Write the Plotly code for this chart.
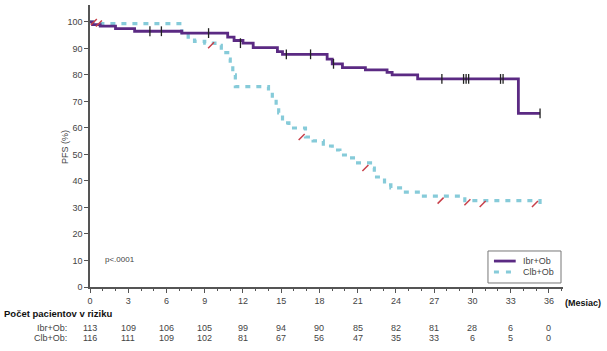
import plotly.graph_objects as go

# Kaplan-Meier step data (months, PFS %)
ibr_t = [0, 0.2, 0.8, 2.0, 3.5, 7.2, 10.8, 11.3, 12.0, 12.8, 14.7, 15.1, 18.6, 19.0, 19.8, 21.6, 23.3, 23.7, 25.7, 33.6, 35.3]
ibr_s = [100, 99.0, 98.4, 97.5, 96.5, 95.8, 94.3, 93.0, 92.0, 90.3, 88.8, 87.8, 86.0, 84.2, 82.8, 81.9, 81.0, 80.0, 78.5, 65.5, 65.5]
ibr_cens_t = [4.7, 5.6, 9.3, 11.8, 15.4, 17.3, 19.1, 27.6, 29.3, 29.5, 29.7, 32.2, 32.4, 35.3]
ibr_cens_s = [96.5, 96.5, 95.8, 92.0, 87.8, 87.8, 84.2, 78.5, 78.5, 78.5, 78.5, 78.5, 78.5, 65.5]

clb_t = [0, 0.6, 7.2, 7.7, 8.2, 9.0, 9.8, 10.3, 10.8, 11.0, 11.2, 11.4, 14.0, 14.3, 14.6, 14.8, 15.1, 15.6, 16.9, 17.5, 18.3, 19.0, 19.6, 20.2, 20.8, 22.0, 22.3, 23.1, 23.6, 24.6, 26.0, 29.4, 35.3]
clb_s = [100, 99.4, 96.0, 94.3, 92.7, 92.0, 91.2, 88.4, 86.0, 83.8, 80.0, 75.6, 74.0, 71.3, 68.7, 65.7, 61.9, 60.0, 56.6, 55.1, 53.2, 51.7, 49.8, 48.7, 46.8, 44.9, 41.5, 38.5, 37.4, 35.8, 34.3, 32.6, 31.3]
clb_cens_t = [0.3, 0.7, 9.5, 16.6, 21.6, 27.5, 29.6, 30.8, 34.9]
clb_cens_s = [100, 99.4, 91.2, 56.6, 44.9, 32.6, 32.0, 31.3, 31.3]

risk_months = [0, 3, 6, 9, 12, 15, 18, 21, 24, 27, 30, 33, 36]
risk_ibr = [113, 109, 106, 105, 99, 94, 90, 85, 82, 81, 28, 6, 0]
risk_clb = [116, 111, 109, 102, 81, 67, 56, 47, 35, 33, 6, 5, 0]

x_ticks = [0, 3, 6, 9, 12, 15, 18, 21, 24, 27, 30, 33, 36]
y_ticks = [0, 10, 20, 30, 40, 50, 60, 70, 80, 90, 100]

series_names = ["Ibr+Ob", "Clb+Ob"]

PURPLE = "#5b2a83"
BLUE = "#86cbd9"
GREY = "#555555"
TXT = "#444444"
FONT = "Liberation Sans, Arial, sans-serif"

fig = go.Figure()
fig.add_trace(go.Scatter(x=clb_t, y=clb_s, mode="lines", line_shape="hv",
                         line=dict(color=BLUE, width=3.2, dash="5px,6px"),
                         name=series_names[1], showlegend=False))
fig.add_trace(go.Scatter(x=ibr_t, y=ibr_s, mode="lines", line_shape="hv",
                         line=dict(color=PURPLE, width=2.8),
                         name=series_names[0], showlegend=False))
fig.add_trace(go.Scatter(x=ibr_cens_t, y=ibr_cens_s, mode="markers", showlegend=False,
                         marker=dict(symbol="line-ns", size=7, line=dict(color="#222222", width=1.3))))
fig.add_trace(go.Scatter(x=clb_cens_t, y=clb_cens_s, mode="markers", showlegend=False,
                         marker=dict(symbol="line-ne", size=6, line=dict(color="#c8404a", width=1.5))))

fig.update_layout(
    width=607, height=351,
    margin=dict(l=90, r=44, t=5, b=64),
    plot_bgcolor="white", paper_bgcolor="white",
    font=dict(family=FONT, size=9, color=GREY),
    showlegend=False,
    xaxis=dict(range=[0, 37.1], tickvals=x_ticks, ticks="outside", ticklen=4,
               tickcolor=GREY, showline=True, linecolor=GREY, linewidth=1.5,
               showgrid=False, zeroline=False, tickfont=dict(size=9, color=TXT),
               minor=dict(dtick=1, ticks="outside", ticklen=2, tickcolor=GREY)),
    yaxis=dict(range=[0, 106.4], tickvals=y_ticks, ticks="outside", ticklen=4,
               tickcolor=GREY, showline=True, linecolor=GREY, linewidth=1.5,
               showgrid=False, zeroline=False, tickfont=dict(size=9, color=TXT)),
)

# Custom legend box (paper coordinates)
shapes = [
    dict(type="rect", xref="paper", yref="paper", x0=0.8414, x1=0.9958, y0=0.0142, y1=0.1277,
         line=dict(color="#777777", width=1), fillcolor="white", layer="above"),
    dict(type="line", xref="paper", yref="paper", x0=0.854, x1=0.900, y0=0.092, y1=0.092,
         line=dict(color=PURPLE, width=2.8), layer="above"),
    dict(type="line", xref="paper", yref="paper", x0=0.854, x1=0.893, y0=0.053, y1=0.053,
         line=dict(color=BLUE, width=3, dash="5px,7px"), layer="above"),
]
fig.update_layout(shapes=shapes)

ann = []
ann.append(dict(text=series_names[0], x=0.912, y=0.092, xref="paper", yref="paper",
                xanchor="left", yanchor="middle", showarrow=False, font=dict(size=9, color=TXT)))
ann.append(dict(text=series_names[1], x=0.912, y=0.053, xref="paper", yref="paper",
                xanchor="left", yanchor="middle", showarrow=False, font=dict(size=9, color=TXT)))
ann.append(dict(text="PFS (%)", x=-0.068, y=0.496, xref="paper", yref="paper",
                textangle=-90, showarrow=False, font=dict(size=9, color=TXT)))
ann.append(dict(text="p<.0001", x=1.0, y=10.2, xref="x", yref="y", xanchor="left",
                showarrow=False, font=dict(size=8, color=TXT)))
ann.append(dict(text="<b>(Mesiac)</b>", x=1.0, y=-0.032, xref="paper", yref="paper",
                xanchor="left", yanchor="top", showarrow=False,
                font=dict(size=9, color="#111111")))
ann.append(dict(text="<b>Počet pacientov v riziku</b>", x=-0.186, y=-0.093, xref="paper", yref="paper",
                xanchor="left", yanchor="middle", showarrow=False,
                font=dict(size=9.5, color="#111111")))
ann.append(dict(text=series_names[0] + ":", x=-0.045, y=-0.145, xref="paper", yref="paper",
                xanchor="right", yanchor="middle", showarrow=False,
                font=dict(size=9, color=TXT)))
ann.append(dict(text=series_names[1] + ":", x=-0.045, y=-0.18, xref="paper", yref="paper",
                xanchor="right", yanchor="middle", showarrow=False,
                font=dict(size=9, color=TXT)))
for m, a, b in zip(risk_months, risk_ibr, risk_clb):
    ann.append(dict(text=str(a), x=m, y=-0.145, xref="x", yref="paper",
                    xanchor="center", yanchor="middle", showarrow=False,
                    font=dict(size=9, color=TXT)))
    ann.append(dict(text=str(b), x=m, y=-0.18, xref="x", yref="paper",
                    xanchor="center", yanchor="middle", showarrow=False,
                    font=dict(size=9, color=TXT)))
fig.update_layout(annotations=ann)

fig.write_html("out.html")
